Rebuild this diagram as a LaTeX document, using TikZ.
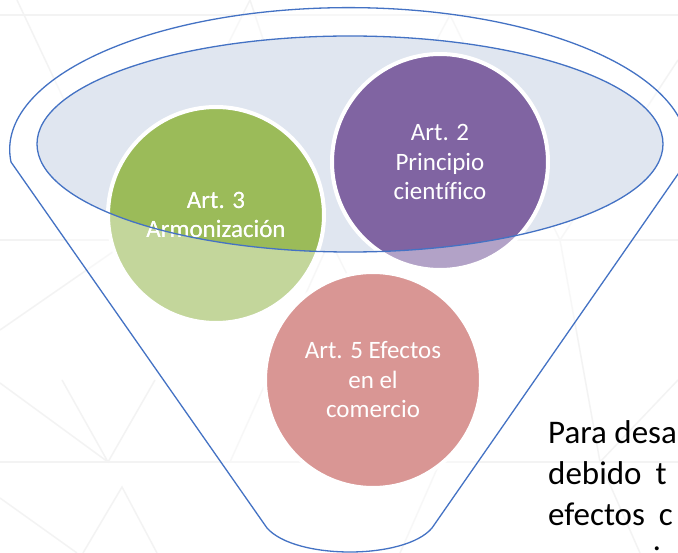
\documentclass[tikz,border=0pt]{standalone}
\usepackage{fontspec}
\setmainfont{Carlito}[Ligatures=NoCommon]
\definecolor{verde}{HTML}{9BBB59}
\definecolor{morado}{HTML}{8064A2}
\definecolor{rojo}{HTML}{C0504D}
\definecolor{borde}{HTML}{4472C4}
\definecolor{boca}{RGB}{224,230,240}
\definecolor{fondo}{RGB}{243,243,243}
\begin{document}
\begin{tikzpicture}[x=1pt,y=-1pt,
    circulo/.style={circle,draw=white,line width=4pt,minimum size=216pt,inner sep=0pt,text=white,align=center,font=\fontsize{25}{29.5}\selectfont},
    linea/.style={draw=borde,line width=1.3pt},
    trama/.style={draw=fondo,line width=1.5pt},
    texto/.style={anchor=base west,inner sep=0pt,font=\fontsize{33}{41}\selectfont}]
    \useasboundingbox (0,0) rectangle (678,553);
    \clip (0,0) rectangle (678,553);
    \fill[white] (0,0) rectangle (678,553);
    \draw[trama] (0,15) -- (678,15) (0,240) -- (678,240) (0,462) -- (678,462);
    \draw[trama] (17,0) -- (130,240) -- (250,0) (130,240) -- (0,330) (250,0) -- (330,240) -- (450,15) -- (560,240) -- (678,60);
    \draw[trama] (0,383) -- (108,462) -- (155,380) (62,380) -- (108,462) (83,553) -- (122,487) -- (157,553) (0,498) -- (77,553);
    \draw[trama] (330,240) -- (230,462) (330,240) -- (440,462) (560,240) -- (600,462) (678,380) -- (600,462) -- (640,553) (440,462) -- (400,553);
    \fill[boca] (350,144) ellipse [x radius=313, y radius=108];
    \node[circulo,fill=verde] (art3) at (216,215) {Art. 3\\Armonización};
    \node[circulo,fill=morado] (art2) at (440,162) {Art. 2\\Principio\\científico};
    \node[circulo,fill=rojo] (art5) at (373,380) {Art. 5 Efectos\\en el\\comercio};
    \fill[white,opacity=0.4,even odd rule] (11,162) arc[start angle=175, end angle=365, x radius=339, y radius=142] -- (432,528) .. controls (405,560) and (295,560) .. (267,528) -- cycle (350,144) ellipse [x radius=313, y radius=108];
    \node[text=white,align=center,font=\fontsize{25}{29.5}\selectfont] at (art3) {Art. 3\\Armonización};
    \draw[linea] (350,144) ellipse [x radius=313, y radius=108];
    \draw[linea] (11,162) arc[start angle=175, end angle=365, x radius=339, y radius=142] -- (432,528) .. controls (405,560) and (295,560) .. (267,528) -- cycle;
    \node[texto] (p1) at (548,443) {Para desa};
    \node[texto] (p2) at (548,484) {debido\hspace{14pt}t};
    \node[texto] (p3) at (548,525) {efectos\hspace{14pt}c};
    \node[texto] (p4) at (653,569) {i};
\end{tikzpicture}
\end{document}
